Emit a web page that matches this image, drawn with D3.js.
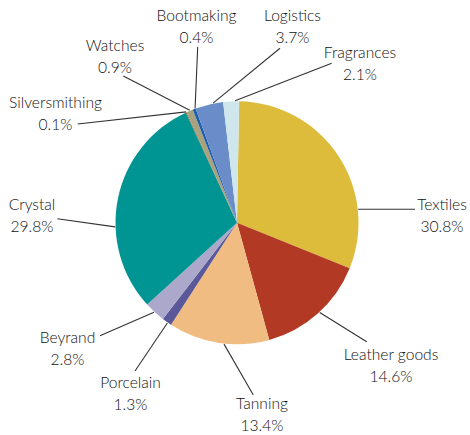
<!DOCTYPE html>
<html>
<head>
<meta charset="utf-8">
<script src="https://cdn.jsdelivr.net/npm/d3@7/dist/d3.min.js"></script>
<style>
  html, body { margin: 0; padding: 0; background: #fff; }
  svg { display: block; }
  text { font-family: Lato, "Open Sans", sans-serif; font-weight: 300; fill: #111; }
</style>
</head>
<body>
<svg id="chart" width="470" height="435"></svg>
<script>
// Business segments, clockwise from 12 o'clock
const categories = ["Textiles", "Leather goods", "Tanning", "Porcelain", "Beyrand",
  "Crystal", "Silversmithing", "Watches", "Bootmaking", "Logistics", "Fragrances"];
const shares = [30.8, 14.6, 13.4, 1.3, 2.8, 29.8, 0.1, 0.9, 0.4, 3.7, 2.1];
const shareLabels = ["30.8%", "14.6%", "13.4%", "1.3%", "2.8%", "29.8%", "0.1%", "0.9%", "0.4%", "3.7%", "2.1%"];

const sliceColors = ["#DDBB3B", "#B23A24", "#F0BC82", "#5A5899", "#ABA8CB",
  "#009593", "#6B6846", "#A8A27E", "#1C5FAE", "#6A8CC9", "#CFE7EC"];

// Callout layout: rim angle (deg, clockwise from top) where the leader starts,
// leader end point, and label centre / first baseline.
const callouts = [
  { rim: 83.6,  end: [415, 209.3], text: [442, 210] },
  { rim: 137.3, end: [366.7, 341.7], text: [391, 360] },
  { rim: 186.1, end: [253.3, 395], text: [262, 409] },
  { rim: 214.8, end: [135, 371], text: [130.5, 388] },
  { rim: 222.9, end: [100, 335.7], text: [67.5, 343] },
  { rim: 268.1, end: [57.3, 218.7], text: [32, 210] },
  { rim: 335.4, end: [77.7, 124], text: [55.5, 108] },
  { rim: 337.2, end: [123.3, 76], text: [115, 51] },
  { rim: 339.9, end: [197.7, 46.7], text: [196.5, 20.5] },
  { rim: 348.7, end: [280, 48.3], text: [292.5, 21] },
  { rim: 359.1, end: [331.7, 63.3], text: [360, 58] }
];

const cx = 237, cy = 222.8, radius = 121.5;
const startOffset = 1 * Math.PI / 180;

const svg = d3.select("#chart");
const g = svg.append("g").attr("transform", `translate(${cx},${cy})`);

const pie = d3.pie()
  .sort(null)
  .value(d => d.value)
  .startAngle(startOffset)
  .endAngle(2 * Math.PI + startOffset);

const rows = categories.map((c, i) => ({ name: c, value: shares[i], label: shareLabels[i], color: sliceColors[i], call: callouts[i] }));
const arc = d3.arc().innerRadius(0).outerRadius(radius);

g.selectAll("path.slice")
  .data(pie(rows))
  .join("path")
  .attr("class", "slice")
  .attr("d", arc)
  .attr("fill", d => d.data.color);

// Leader lines
const rimPoint = deg => {
  const a = deg * Math.PI / 180;
  return [cx + (radius + 0.5) * Math.sin(a), cy - (radius + 0.5) * Math.cos(a)];
};

svg.selectAll("line.leader")
  .data(rows)
  .join("line")
  .attr("class", "leader")
  .attr("x1", d => rimPoint(d.call.rim)[0])
  .attr("y1", d => rimPoint(d.call.rim)[1])
  .attr("x2", d => d.call.end[0])
  .attr("y2", d => d.call.end[1])
  .attr("stroke", "#333")
  .attr("stroke-width", 1.1);

// Labels: name on the first line, share below
const labels = svg.selectAll("text.label")
  .data(rows)
  .join("text")
  .attr("class", "label")
  .attr("text-anchor", "middle")
  .attr("font-size", 15.6);

labels.append("tspan")
  .attr("x", d => d.call.text[0])
  .attr("y", d => d.call.text[1])
  .text(d => d.name);

labels.append("tspan")
  .attr("x", d => d.call.text[0])
  .attr("y", d => d.call.text[1] + 22)
  .text(d => d.label);
</script>
</body>
</html>
